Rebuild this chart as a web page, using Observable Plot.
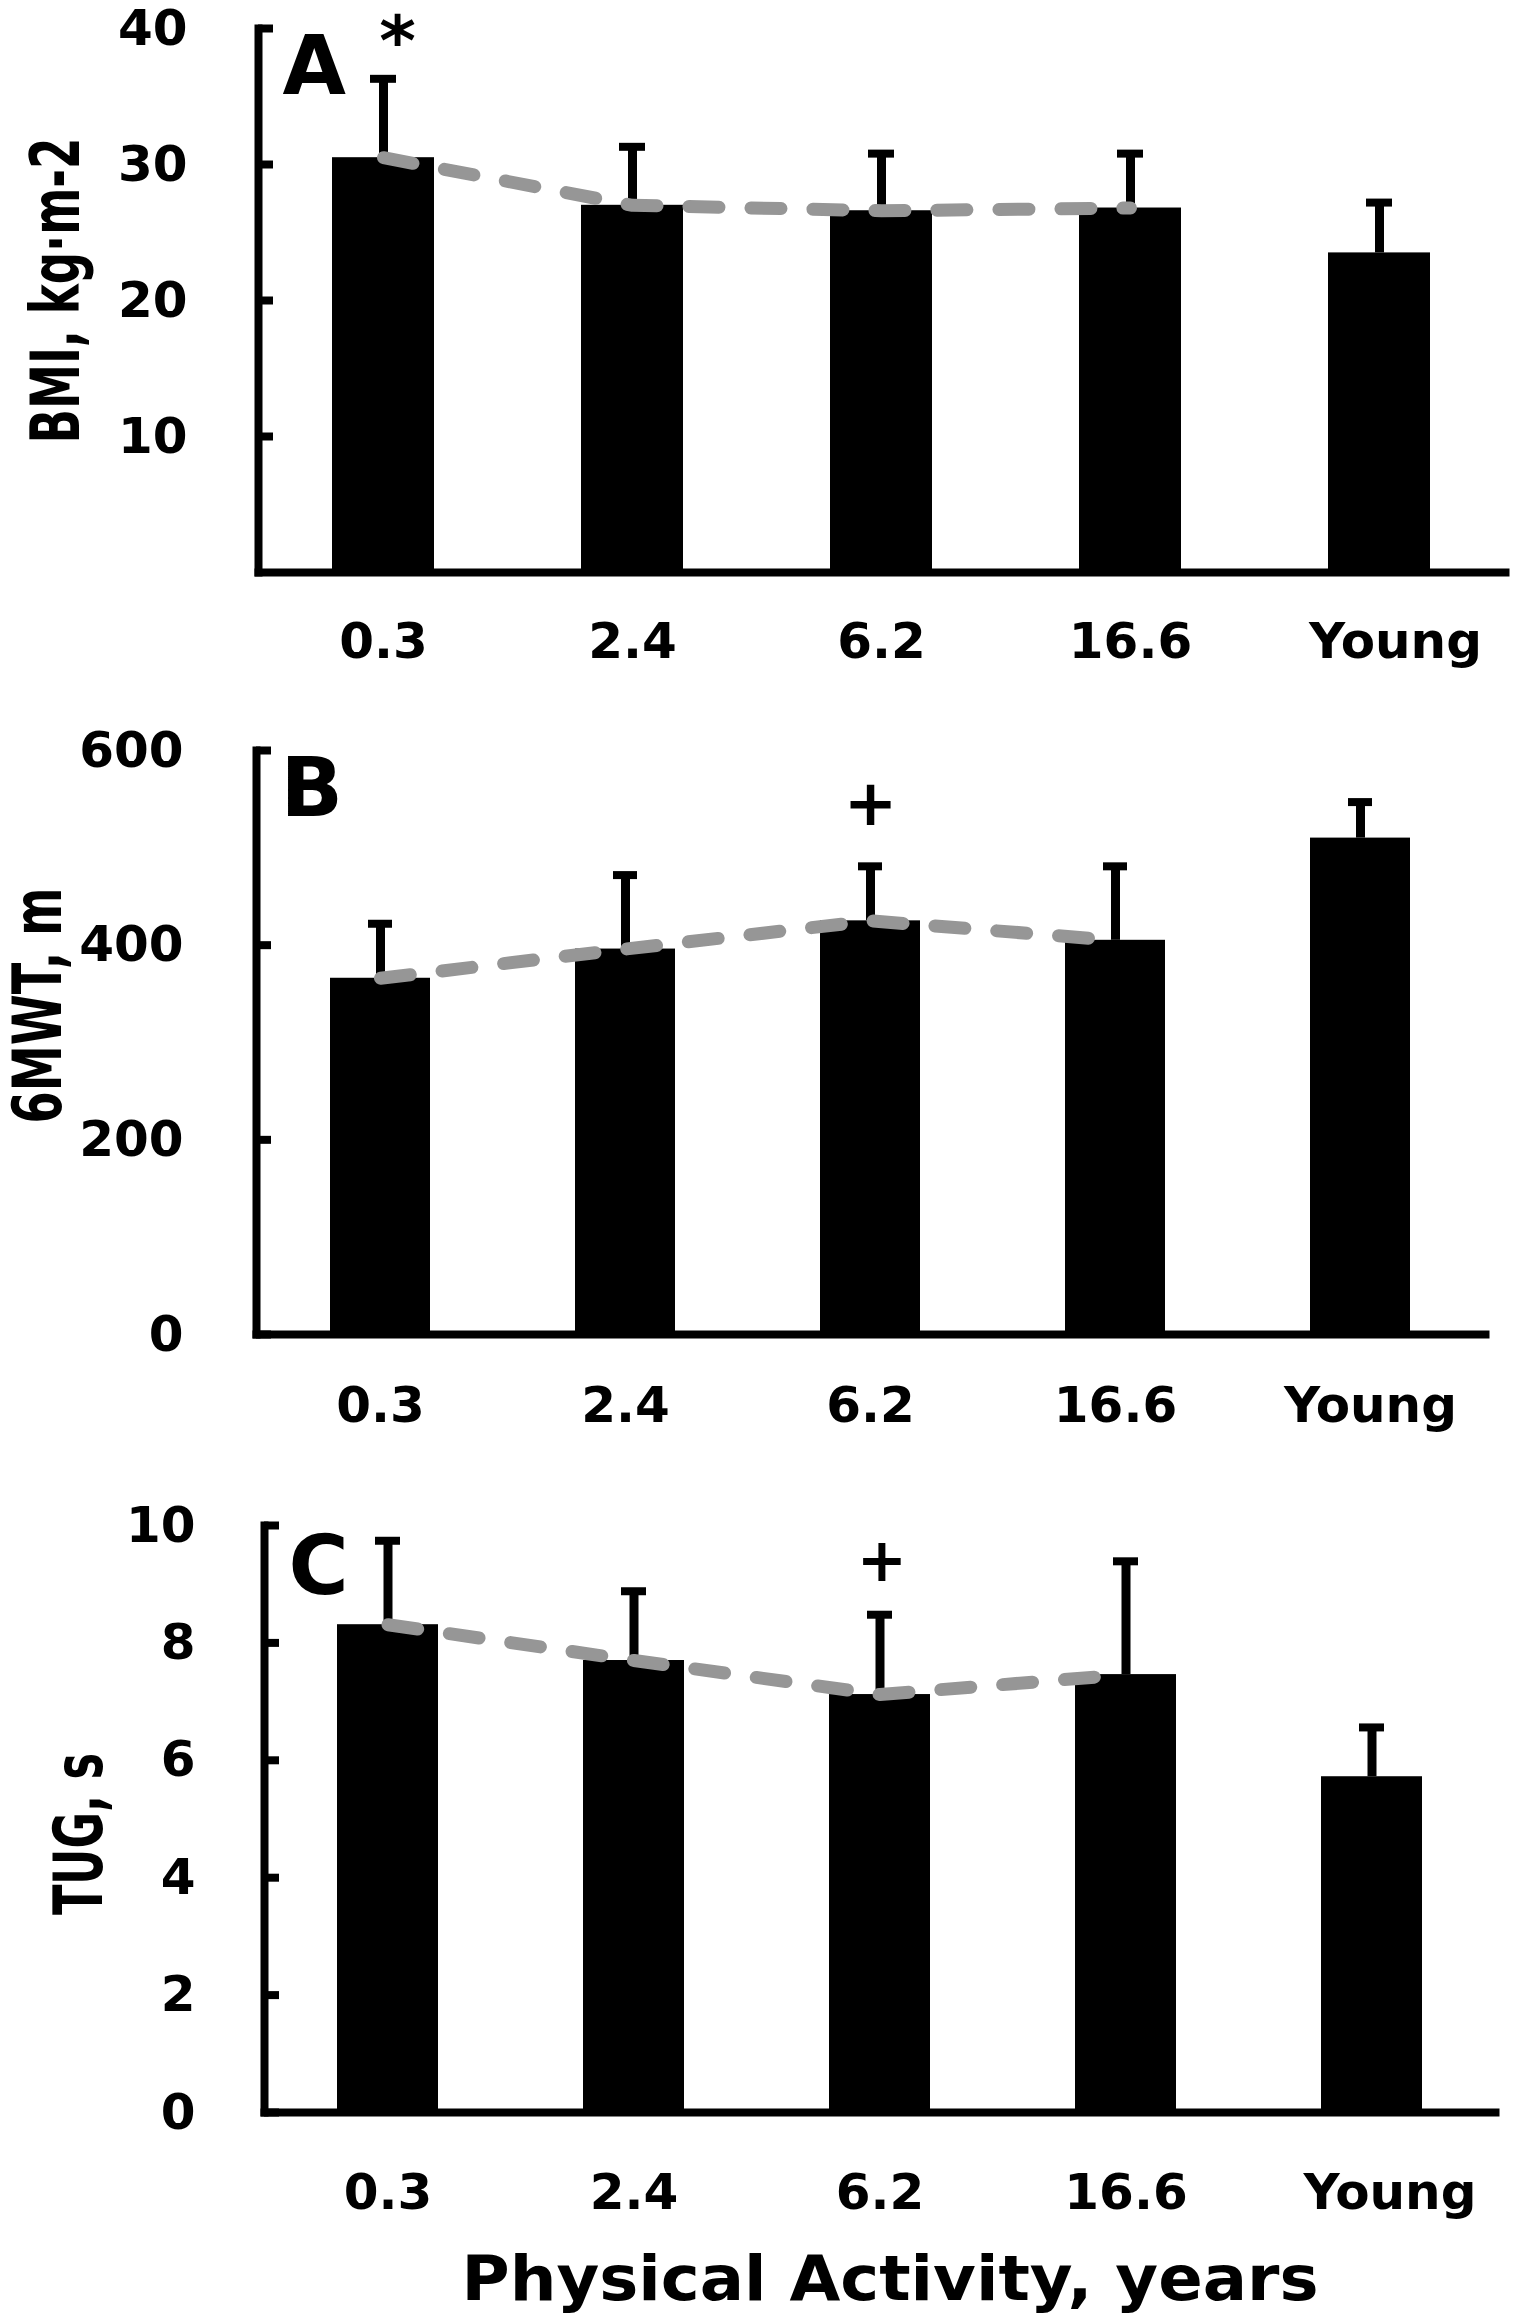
<!DOCTYPE html>
<html>
<head>
<meta charset="utf-8">
<script src="https://cdn.jsdelivr.net/npm/d3@7"></script>
<script src="https://cdn.jsdelivr.net/npm/@observablehq/plot@0.6"></script>
<style>
  body { margin: 0; background: #fff; }
  #fig svg { display: block; }
</style>
</head>
<body>
<div id="fig"></div>
<script>
// groups on the x axis (years of physical activity, plus the young controls)
const groups = ["0.3", "2.4", "6.2", "16.6", "Young"]
const trendGroups = ["0.3", "2.4", "6.2", "16.6"]

// A: BMI
const bmiMean = [30.5, 27.0, 26.6, 26.8, 23.5]
const bmiSd = [5.8, 4.3, 4.2, 4.0, 3.7]
const bmiTicks = [10, 20, 30, 40]

// B: six minute walk test
const walkMean = [366, 396, 425, 405, 510]
const walkSd = [56, 76, 56, 76, 37]
const walkTicks = [0, 200, 400, 600]

// C: timed up and go
const tugMean = [8.31, 7.70, 7.12, 7.46, 5.72]
const tugSd = [1.43, 1.18, 1.36, 1.93, 0.84]
const tugTicks = [0, 2, 4, 6, 8, 10]

const xTitle = "Physical Activity, years"

const panels = [
  {letter: "A", yLabel: "BMI, kg·m-2", mean: bmiMean, sd: bmiSd, ticks: bmiTicks, domain: [0, 40],
   sig: [{group: "0.3", symbol: "*"}],
   height: 700, top: 28, bottom: 128, left: 258, right: 15, xPad: 50, yPad: 86, youngDx: 16,
   letterDx: 24, letterDy: 7, sigDx: 14, sigDy: 14, sigSize: 70,
   labelDx: -228, labelDy: -10, labelLength: 306},
  {letter: "B", yLabel: "6MWT, m", mean: walkMean, sd: walkSd, ticks: walkTicks, domain: [0, 600],
   sig: [{group: "6.2", symbol: "+"}],
   height: 760, top: 50, bottom: 126, left: 256, right: 35, xPad: 52, yPad: 88, youngDx: 10,
   letterDx: 24, letterDy: 7, sigDx: 0, sigDy: 54, sigSize: 64,
   labelDx: -244, labelDy: -37, labelLength: 236},
  {letter: "C", yLabel: "TUG, s", mean: tugMean, sd: tugSd, ticks: tugTicks, domain: [0, 10],
   sig: [{group: "6.2", symbol: "+"}],
   height: 855, top: 65, bottom: 203, left: 264, right: 25, xPad: 61, yPad: 84, youngDx: 18,
   letterDx: 24, letterDy: 10, sigDx: 2, sigDy: 36, sigSize: 60,
   labelDx: -211, labelDy: 15, labelLength: 162, xTitle: true}
]

function squeeze(chart, label, length) {
  d3.select(chart).selectAll("text")
    .filter(function() { return this.textContent === label })
    .attr("textLength", length)
    .attr("lengthAdjust", "spacingAndGlyphs")
}

function panel(p) {
  const rows = groups.map((g, i) => ({group: g, mean: p.mean[i], upper: p.mean[i] + p.sd[i]}))
  const trend = rows.filter(d => trendGroups.includes(d.group))

  const marks = [
    Plot.barY(rows, {x: "group", y: "mean", fill: "#000"}),
    Plot.ruleX(rows, {x: "group", y1: "mean", y2: "upper", stroke: "#000", strokeWidth: 9}),
    Plot.tickY(rows, {x: "group", y: "upper", stroke: "#000", strokeWidth: 8, insetLeft: 38, insetRight: 38}),
    Plot.line(trend, {x: "group", y: "mean", stroke: "#969696", strokeWidth: 13,
      strokeDasharray: "30,32", strokeLinecap: "round"}),
    Plot.frame({anchor: "left", stroke: "#000", strokeWidth: 8, strokeLinecap: "square"}),
    Plot.frame({anchor: "bottom", stroke: "#000", strokeWidth: 8, strokeLinecap: "square"}),
    Plot.axisY({ticks: p.ticks, tickSize: -15, tickPadding: p.yPad, strokeWidth: 8, label: null}),
    Plot.axisX({ticks: trendGroups, tickSize: 0, tickPadding: p.xPad, label: null}),
    Plot.axisX({ticks: ["Young"], tickSize: 0, tickPadding: p.xPad, dx: p.youngDx, label: null}),
    Plot.text([p.letter], {frameAnchor: "top-left", textAnchor: "start", lineAnchor: "top",
      dx: p.letterDx, dy: p.letterDy, fontSize: 82}),
    Plot.text(p.sig, {x: "group", text: "symbol", frameAnchor: "top", lineAnchor: "middle",
      dx: p.sigDx, dy: p.sigDy, fontSize: p.sigSize}),
    Plot.text([p.yLabel], {frameAnchor: "left", rotate: -90, textAnchor: "middle", lineAnchor: "top",
      dx: p.labelDx, dy: p.labelDy, fontSize: 68})
  ]
  if (p.xTitle) {
    marks.push(Plot.text([xTitle], {frameAnchor: "bottom", lineAnchor: "middle", dx: 10, dy: 168,
      fontSize: 62}))
  }

  const chart = Plot.plot({
    width: 1520,
    height: p.height,
    marginTop: p.top,
    marginBottom: p.bottom,
    marginLeft: p.left,
    marginRight: p.right,
    style: {fontFamily: "DejaVu Sans", fontWeight: "bold", fontSize: "50px", color: "#000",
      background: "#fff", overflow: "visible"},
    x: {domain: groups, paddingInner: 0.59, paddingOuter: 0.295, label: null},
    y: {domain: p.domain, label: null},
    marks
  })

  // the axis titles in the figure are squeezed horizontally
  squeeze(chart, p.yLabel, p.labelLength)
  if (p.xTitle) squeeze(chart, xTitle, 857)
  return chart
}

panels.forEach(p => d3.select('#fig').append(() => panel(p)))
</script>
</body>
</html>
